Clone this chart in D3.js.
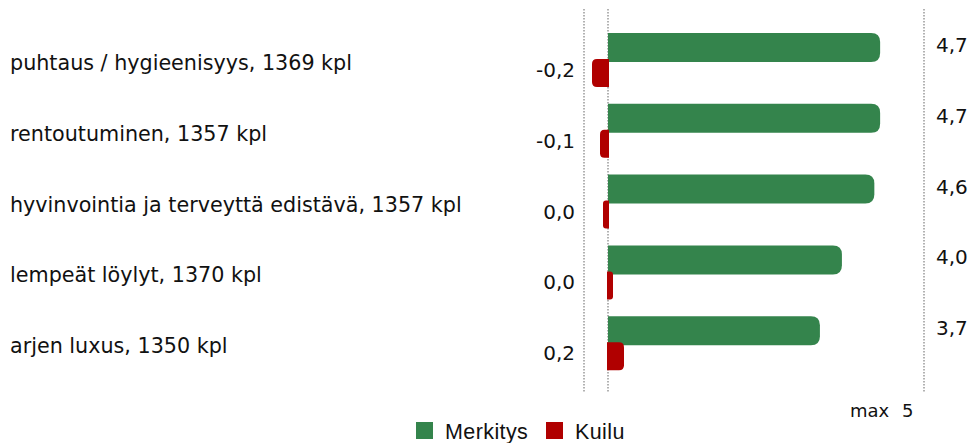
<!DOCTYPE html>
<html>
<head>
<meta charset="utf-8">
<script src="https://cdn.jsdelivr.net/npm/d3@7"></script>
<style>
  body { margin: 0; background: #fff; }
  svg { display: block; }
  .cat, .val { font-family: "DejaVu Sans", Verdana, sans-serif; font-size: 20px; fill: #111; }
  .cat { font-size: 20.7px; }
  .legend { font-family: "Liberation Sans", Arial, sans-serif; font-size: 21.5px; letter-spacing: 0.4px; fill: #111; }
</style>
</head>
<body>
<div id="chart"></div>
<script>
const categories = [
  "puhtaus / hygieenisyys, 1369 kpl",
  "rentoutuminen, 1357 kpl",
  "hyvinvointia ja terveyttä edistävä, 1357 kpl",
  "lempeät löylyt, 1370 kpl",
  "arjen luxus, 1350 kpl"
];
const merkitys = [4.7, 4.7, 4.6, 4.04, 3.66];
const kuilu = [-0.2, -0.1, -0.04, 0.03, 0.2];
const legendLabels = ["Merkitys", "Kuilu"];
const maxValue = 5;

const width = 974, height = 443;
const green = "#34844c", red = "#b00000";

const svg = d3.select("#chart").append("svg")
  .attr("width", width).attr("height", height);

const y = d3.scaleBand().domain(categories).range([20, 374]);
const x = d3.scaleLinear().domain([0, maxValue]).range([608, 897.5]);
const xGap = d3.scaleLinear().domain([-0.3, 0.3]).range([584, 632]);
const maxX = 924;

const fmt = (v) => {
  const r = Math.round(v * 10) / 10;
  return (r === 0 ? 0 : r).toFixed(1).replace(".", ",");
};

// dotted guide lines
const guides = svg.append("g");
[xGap(-0.3), x(0), maxX].forEach((gx) => {
  guides.append("line")
    .attr("x1", gx).attr("x2", gx)
    .attr("y1", 9).attr("y2", 392)
    .attr("stroke", "#999")
    .attr("stroke-width", 1.5)
    .attr("stroke-dasharray", "1.5,1.5");
});

// bar with square end at zero and rounded far end
function barPath(x0, x1, top, h, r) {
  const dir = x1 >= x0 ? 1 : -1;
  const w = Math.abs(x1 - x0);
  r = Math.min(r, w / 2, h / 2);
  const p = d3.path();
  p.moveTo(x0, top);
  p.lineTo(x1 - dir * r, top);
  p.quadraticCurveTo(x1, top, x1, top + r);
  p.lineTo(x1, top + h - r);
  p.quadraticCurveTo(x1, top + h, x1 - dir * r, top + h);
  p.lineTo(x0, top + h);
  p.closePath();
  return p.toString();
}

const rows = svg.append("g").selectAll("g")
  .data(categories.map((c, i) => ({ c, m: merkitys[i], k: kuilu[i] })))
  .join("g");

rows.append("path")
  .attr("d", (d) => barPath(x(0), x(d.m), y(d.c) + 13, 29, 9))
  .attr("fill", green);

rows.append("path")
  .attr("d", (d) => {
    const x0 = xGap(0) + (d.k < 0 ? 1 : -1);
    let x1 = xGap(d.k);
    if (Math.abs(x1 - x0) < 6) x1 = x0 + (d.k < 0 ? -6 : 6);
    return barPath(x0, x1, y(d.c) + 39, 28, 5);
  })
  .attr("fill", red);

rows.append("text")
  .attr("class", "cat")
  .attr("x", 10)
  .attr("y", (d) => y(d.c) + 50)
  .text((d) => d.c);

rows.append("text")
  .attr("class", "val")
  .attr("x", 575)
  .attr("y", (d) => y(d.c) + 57)
  .attr("text-anchor", "end")
  .text((d) => fmt(d.k));

rows.append("text")
  .attr("class", "val")
  .attr("x", 936)
  .attr("y", (d) => y(d.c) + 32)
  .text((d) => fmt(d.m));

svg.append("text")
  .attr("class", "val")
  .style("font-size", "18px")
  .attr("x", 850)
  .attr("y", 417)
  .text("max");
svg.append("text")
  .attr("class", "val")
  .style("font-size", "18px")
  .attr("x", 902)
  .attr("y", 417)
  .text(maxValue);

// legend
const legend = svg.append("g");
const legendX = [416, 546];
legendLabels.forEach((lab, i) => {
  legend.append("rect")
    .attr("x", legendX[i]).attr("y", 422)
    .attr("width", 17).attr("height", 17)
    .attr("fill", i === 0 ? green : red);
  legend.append("text")
    .attr("class", "legend")
    .attr("x", legendX[i] + 29)
    .attr("y", 439)
    .text(lab);
});
</script>
</body>
</html>
